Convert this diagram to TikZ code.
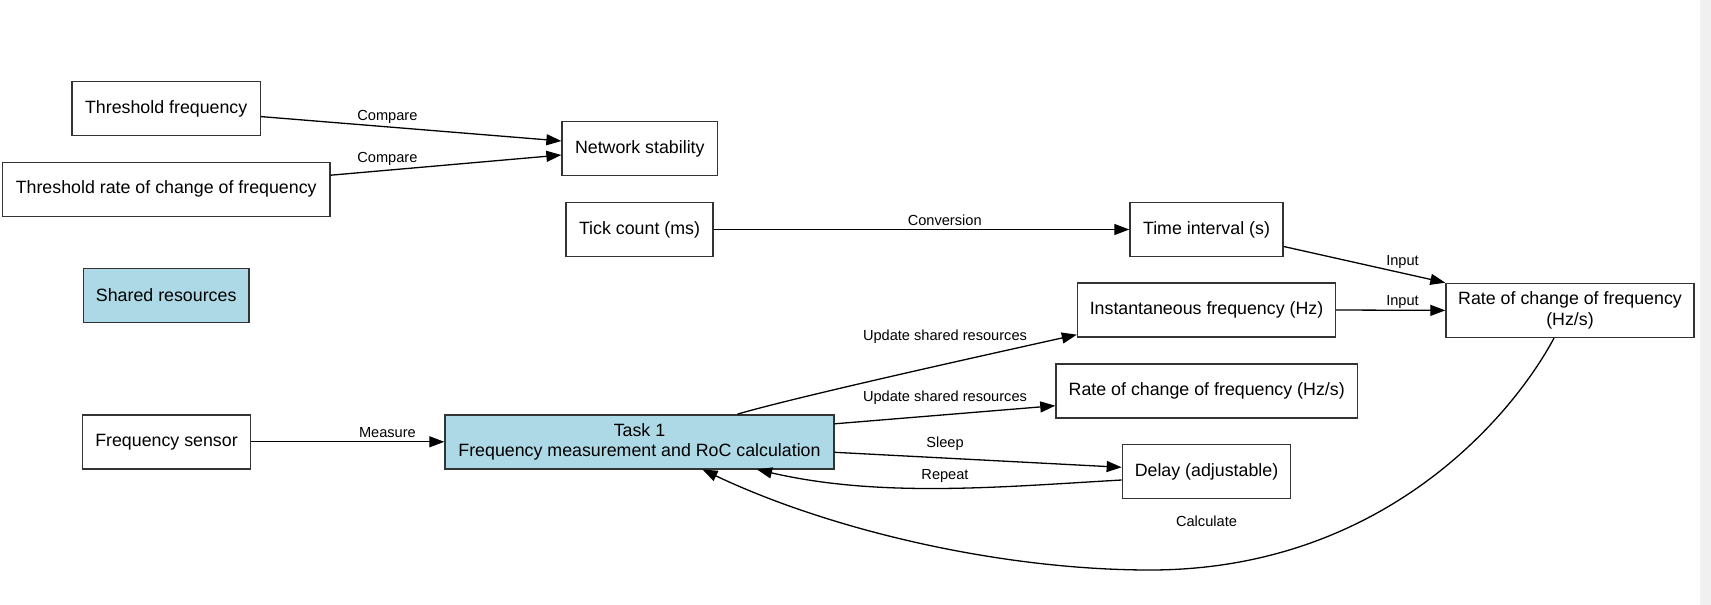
\documentclass[tikz,border=0pt]{standalone}
\usepackage{fontspec}
\setmainfont{Liberation Sans}
\usetikzlibrary{arrows.meta}
\definecolor{lightbluefill}{HTML}{ADD8E6}
\definecolor{stripgray}{HTML}{F0F0F0}
\newcommand\myboxfont{\fontsize{17.8}{20.7}\selectfont}
\newcommand\mylblfont{\fontsize{14.6}{17}\selectfont}
\tikzset{
  box/.style={draw=black!80, line width=1.4pt, minimum height=54pt, inner sep=0pt, align=center, font=\myboxfont},
  bluebox/.style={box, fill=lightbluefill},
  lbl/.style={font=\mylblfont, inner sep=0pt},
  conn/.style={-{Triangle[length=15pt,width=11pt]}, line width=1.3pt},
}
\begin{document}
\begin{tikzpicture}[x=1pt,y=-1pt]
\useasboundingbox (0,0) rectangle (1711,605);
\fill[stripgray] (1700,0) rectangle (1711,605);

% nodes
\node[box, minimum width=188.5pt] (tf) at (166.2,108.6) {Threshold frequency};
\node[box, minimum width=327.5pt] (tr) at (166.2,189.2) {Threshold rate of change of frequency};
\node[box, minimum width=155.5pt] (ns) at (639.8,148.5) {Network stability};
\node[box, minimum width=147pt] (tick) at (639.5,229.5) {Tick count (ms)};
\node[box, minimum width=153pt] (time) at (1206.5,229.5) {Time interval (s)};
\node[bluebox, minimum width=165.5pt] (shared) at (166.2,295.3) {Shared resources};
\node[box, minimum width=258pt] (inst) at (1206.5,310) {Instantaneous frequency (Hz)};
\node[box, minimum width=248pt] (rocr) at (1570,310.4) {Rate of change of frequency\\(Hz/s)};
\node[box, minimum width=301.5pt] (rocm) at (1206.7,391) {Rate of change of frequency (Hz/s)};
\node[box, minimum width=168pt] (fs) at (166.5,441.8) {Frequency sensor};
\node[bluebox, minimum width=389pt] (task) at (639.5,441.8) {Task 1\\Frequency measurement and RoC calculation};
\node[box, minimum width=168.3pt] (delay) at (1206.5,471.7) {Delay (adjustable)};

% connectors
\draw[conn] ([yshift=-8pt]tf.east) -- ([yshift=7.5pt]ns.west);
\draw[conn] ([yshift=14pt]tr.east) -- ([yshift=-6.5pt]ns.west);
\draw[conn] (tick.east) -- (time.west);
\draw[conn] ([yshift=-17pt]time.east) -- (rocr.north west);
\draw[conn] (inst.east) -- (rocr.west);
\draw[conn] ([xshift=98pt]task.north) .. controls (800,396) and (990,354) .. ([yshift=3pt]inst.south west);
\draw[conn] ([yshift=18pt]task.east) -- ([yshift=-14.7pt]rocm.west);
\draw[conn] ([yshift=-10.5pt]task.east) -- ([yshift=4.4pt]delay.west);
\draw[conn] ([yshift=-8.3pt]delay.west) .. controls (1000,487) and (880,498) .. ([xshift=117.5pt]task.south);
\coordinate (calcmid) at (1150,570);
\draw[conn] ([xshift=-16pt]rocr.south) .. controls (1510,420) and (1380,570) .. (calcmid)
  .. controls (1000,570) and (830,530) .. ([xshift=63pt]task.south);
\draw[conn] (fs.east) -- (task.west);

% labels
\node[lbl] (l1) at (387.4,117.3) {Compare};
\node[lbl] (l2) at (387.4,159) {Compare};
\node[lbl] (l3) at (944.7,220) {Conversion};
\node[lbl] (l4) at (1402.5,261.7) {Input};
\node[lbl] (l5) at (1402.5,301.7) {Input};
\node[lbl] (l6) at (945,336.7) {Update shared resources};
\node[lbl] (l7) at (945,397.3) {Update shared resources};
\node[lbl] (l8) at (945,444) {Sleep};
\node[lbl] (l9) at (945,476) {Repeat};
\node[lbl] (l10) at (387.4,432.3) {Measure};
\node[lbl] (l11) at (1206.5,521) {Calculate};
\end{tikzpicture}
\end{document}
